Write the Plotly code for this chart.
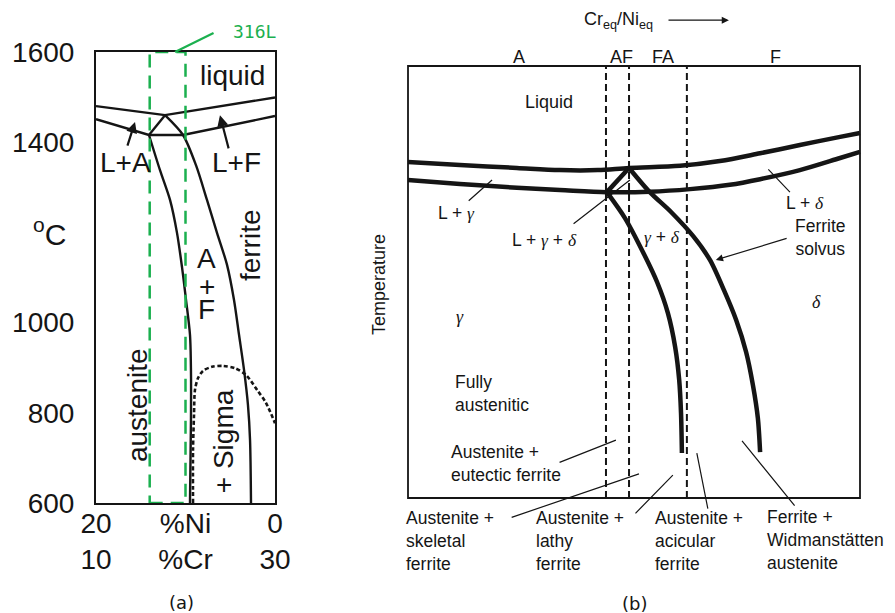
import plotly.graph_objects as go

# ===================== DATA =====================
# ---- Panel (a): Fe-Cr-Ni section, x = %Ni (20 -> 0), y = temperature (C)
A_T_TICKS = [600, 800, 1000, 1400, 1600]
A_NI_TICKS = [20, 10, 0]
A_NI_TICKTEXT = ["20<br>10", "%Ni<br>%Cr", "0<br>30"]

a_liq_ni = [20, 12.29, 0]
a_liq_t = [1480, 1460, 1499]
a_sol_ni = [20, 14.08, 10.28, 0]
a_sol_t = [1451, 1416, 1416, 1458]
a_tri_ni = [12.29, 14.08]
a_tri_t = [1460, 1416]
a_aus_ni = [14.08, 12.85, 11.73, 10.95, 10.39, 9.94, 9.50, 9.39, 9.39, 9.50]
a_aus_t = [1416, 1338, 1272, 1199, 1123, 1050, 973, 895, 784, 600]
a_fer_ni = [12.29, 10.28, 8.83, 7.60, 6.48, 5.36, 4.58, 4.02, 3.46, 3.02, 2.79, 2.68]
a_fer_t = [1460, 1416, 1349, 1272, 1199, 1128, 1050, 973, 895, 817, 740, 600]
a_sig_ni = [9.16, 9.16, 9.05, 8.94, 8.60, 8.04, 7.04, 5.81, 4.47, 3.24, 2.01, 1.01, 0]
a_sig_t = [600, 717, 795, 851, 877, 893, 902, 904, 899, 884, 851, 822, 777]
a_316l_ni = [14, 10]

# ---- Panel (b): schematic, x = Cr_eq/Ni_eq (relative 0-100), y = temperature (relative 0-100)
b_zone_x = [43.8, 48.9, 61.7]
b_zone_names = ["A", "AF", "FA", "F"]
b_zone_name_x = [24.6, 47.3, 56.4, 81.4]
b_liq_x = [0, 11.5, 24.1, 33.6, 42.0, 48.9, 60.2, 69.0, 77.9, 86.7, 95.6, 100]
b_liq_y = [77.8, 77.1, 76.4, 75.9, 75.9, 76.4, 76.9, 78.0, 79.8, 81.7, 83.6, 84.5]
b_sol_x = [0, 11.5, 24.1, 33.6, 44.0, 53.5, 62.4, 71.2, 77.9, 86.7, 95.6, 100]
b_sol_y = [73.6, 72.7, 71.8, 71.3, 70.8, 70.9, 71.5, 72.5, 73.8, 75.9, 78.7, 80.1]
b_tri_x = [48.9, 44.0]
b_tri_y = [76.4, 70.8]
b_fer_x = [48.9, 53.5, 58.2, 63.1, 66.8, 69.9, 72.6, 74.8, 76.3, 77.4, 77.9]
b_fer_y = [76.4, 70.8, 66.2, 60.6, 55.1, 48.1, 41.2, 33.8, 26.2, 18.5, 10.6]
b_aus_x = [44.0, 48.0, 52.0, 55.1, 57.5, 59.1, 60.0, 60.4, 60.6]
b_aus_y = [70.8, 64.8, 56.9, 50.0, 42.8, 35.0, 27.3, 19.7, 10.4]

# ===================== FIGURE =====================
SANS = "Liberation Sans, Arial, sans-serif"
INK = "#151515"
GREEN = "#1bb04f"

fig = go.Figure()


def line(x, y, sub, width, color=INK, dash=None, shape="linear", smoothing=1.0):
    xa, ya = ("x", "y") if sub == "a" else ("x2", "y2")
    ln = dict(color=color, width=width, shape=shape)
    if shape == "spline":
        ln["smoothing"] = smoothing
    if dash:
        ln["dash"] = dash
    fig.add_trace(go.Scatter(x=x, y=y, xaxis=xa, yaxis=ya, mode="lines",
                             line=ln, hoverinfo="skip", showlegend=False))


# ---- panel (a) lines
line(a_liq_ni, a_liq_t, "a", 2.4)
line(a_sol_ni, a_sol_t, "a", 2.4)
line(a_tri_ni, a_tri_t, "a", 2.4)
line(a_aus_ni, a_aus_t, "a", 2.4, shape="spline", smoothing=0.8)
line(a_fer_ni, a_fer_t, "a", 2.4, shape="spline", smoothing=0.8)
line(a_sig_ni, a_sig_t, "a", 2.6, dash="4px,2.5px", shape="spline", smoothing=0.8)

# ---- panel (b) lines
for zx in b_zone_x:
    line([zx, zx], [0, 100], "b", 2, dash="7px,4px")
line(b_liq_x, b_liq_y, "b", 4.5, shape="spline", smoothing=0.9)
line(b_sol_x, b_sol_y, "b", 4.5, shape="spline", smoothing=0.9)
line(b_tri_x, b_tri_y, "b", 4.5)
line(b_fer_x, b_fer_y, "b", 4.5, shape="spline", smoothing=0.8)
line(b_aus_x, b_aus_y, "b", 4.5, shape="spline", smoothing=0.8)

shapes = [
    # 316L composition window in (a)
    dict(type="rect", xref="x", yref="y", x0=a_316l_ni[0], x1=a_316l_ni[1], y0=600, y1=1600,
         line=dict(color=GREEN, width=2.5, dash="13px,8px"), layer="above"),
    # frame of (b)
    dict(type="rect", xref="x2", yref="y2", x0=0, x1=100, y0=0, y1=100,
         line=dict(color=INK, width=1.8), layer="above"),
]

ann = []


def text(x, y, s, sub, size, color=INK, angle=0, xanchor="center", family=SANS, align="center"):
    xr, yr = ("x", "y") if sub == "a" else ("x2", "y2")
    if sub == "paper":
        xr = yr = "paper"
    ann.append(dict(x=x, y=y, xref=xr, yref=yr, text=s, showarrow=False,
                    font=dict(family=family, size=size, color=color), textangle=angle,
                    xanchor=xanchor, yanchor="middle", align=align))


def arrow(x0, y0, x1, y1, sub, head=0, width=1.2, color=INK, size=1.0):
    xr, yr = ("x", "y") if sub == "a" else ("x2", "y2")
    ann.append(dict(x=x1, y=y1, ax=x0, ay=y0, xref=xr, yref=yr, axref=xr, ayref=yr,
                    text="", showarrow=True, arrowhead=head, arrowwidth=width,
                    arrowcolor=color, arrowsize=size, standoff=0, startstandoff=0))


def g(ch):
    return "<span style=\"font-family:'Liberation Serif',serif\"><i>%s</i></span>" % ch


# ---- panel (a) text
FA = 28
text(4.80, 1547, "liquid", "a", FA)
text(16.76, 1354, "L+A", "a", FA)
text(4.25, 1354, "L+F", "a", FA)
text(2.79, 1172, "ferrite", "a", FA, angle=-90)
text(7.60, 1143, "A", "a", FA)
text(7.60, 1079, "+", "a", FA)
text(7.60, 1030, "F", "a", FA)
text(15.42, 817, "austenite", "a", FA, angle=-90)
text(5.81, 737, "+ Sigma", "a", FA, angle=-90)
text(231 / 895, 1 - 32 / 613, "316L", "paper", 18, color=GREEN, xanchor="left",
     family="DejaVu Sans Mono, monospace")
arrow(6.70, 1644, 11.17, 1600, "a", head=0, width=2.2, color=GREEN)
arrow(16.54, 1389, 15.64, 1445, "a", head=2, width=2.2, size=1.0)
arrow(5.14, 1383, 6.15, 1460, "a", head=2, width=2.2, size=1.0)
text(49 / 895, 1 - 232 / 613, "<sup>o</sup>C", "paper", 30)
text(181 / 895, 1 - 602 / 613, "(a)", "paper", 18, family="DejaVu Sans, sans-serif")

# ---- panel (b) text
FB = 17.5
for nm, zx in zip(b_zone_names, b_zone_name_x):
    text(zx, 102.1, nm, "b", 18)
text(54.6, 110.6, "Cr<sub>eq</sub>/Ni<sub>eq</sub>", "b", 18, xanchor="right")
arrow(57.3, 110.6, 71.0, 110.6, "b", head=2, width=1.3, size=1.1)
text(-6.4, 49.3, "Temperature", "b", 18, angle=-90)
text(31.2, 91.7, "Liquid", "b", 18)
text(10.8, 66.0, "L + " + g("γ"), "b", FB)
arrow(13.1, 68.5, 18.6, 73.6, "b")
text(30.3, 59.7, "L + " + g("γ") + " + " + g("δ"), "b", FB)
arrow(36.3, 63.2, 49.1, 73.6, "b")
text(56.2, 60.4, g("γ") + " + " + g("δ"), "b", FB)
text(87.8, 68.3, "L + " + g("δ"), "b", FB)
arrow(79.4, 76.4, 84.5, 70.8, "b")
text(91.2, 60.3, "Ferrite<br>solvus", "b", FB)
arrow(84.1, 60.2, 68.1, 55.1, "b", head=2, width=1.2, size=1.2)
text(90.3, 45.4, g("δ"), "b", 18)
text(11.5, 41.9, g("γ"), "b", 18)
text(10.0, 24.1, "Fully<br>austenitic", "b", FB, xanchor="left", align="left")
text(9.1, 7.9, "Austenite +<br>eutectic ferrite", "b", FB, xanchor="left", align="left")
arrow(33.2, 8.1, 46.0, 13.4, "b")
text(-0.9, -9.95, "Austenite +<br>skeletal<br>ferrite", "b", FB, xanchor="left", align="left")
arrow(22.6, -4.6, 51.1, 5.6, "b")
text(27.9, -9.95, "Austenite +<br>lathy<br>ferrite", "b", FB, xanchor="left", align="left")
arrow(50.0, -3.9, 58.6, 5.3, "b")
text(54.2, -9.95, "Austenite +<br>acicular<br>ferrite", "b", FB, xanchor="left", align="left")
arrow(66.4, -2.8, 63.9, 10.4, "b")
text(79.0, -9.7, "Ferrite +<br>Widmanstätten<br>austenite", "b", FB, xanchor="left", align="left")
arrow(85.8, -2.1, 73.9, 13.2, "b")
text(634 / 895, 1 - 603 / 613, "(b)", "paper", 18, family="DejaVu Sans, sans-serif")

fig.update_layout(
    width=895, height=613, autosize=False,
    margin=dict(l=0, r=0, t=0, b=0, pad=0, autoexpand=False),
    paper_bgcolor="white", plot_bgcolor="rgba(0,0,0,0)",
    shapes=shapes, annotations=ann, showlegend=False,
    xaxis=dict(domain=[96 / 895, 275 / 895], range=[20, 0], tickvals=A_NI_TICKS,
               ticktext=A_NI_TICKTEXT, ticks="", ticklabelstandoff=-6, automargin=False,
               tickfont=dict(family=SANS, size=FA, color=INK), showgrid=False, zeroline=False,
               showline=True, mirror=True, linecolor=INK, linewidth=2, anchor="y"),
    yaxis=dict(domain=[1 - 503 / 613, 1 - 52 / 613], range=[600, 1600], tickvals=A_T_TICKS,
               ticks="", ticklabelstandoff=14, automargin=False,
               tickfont=dict(family=SANS, size=FA, color=INK), showgrid=False, zeroline=False,
               showline=True, mirror=True, linecolor=INK, linewidth=2, anchor="x"),
    xaxis2=dict(domain=[340 / 895, 1], range=[(340 - 408) / 4.52, (895 - 408) / 4.52],
                visible=False, anchor="y2", automargin=False),
    yaxis2=dict(domain=[0, 1], range=[(498 - 613) / 4.32, 498 / 4.32],
                visible=False, anchor="x2", automargin=False),
)

fig.write_html("out.html")
